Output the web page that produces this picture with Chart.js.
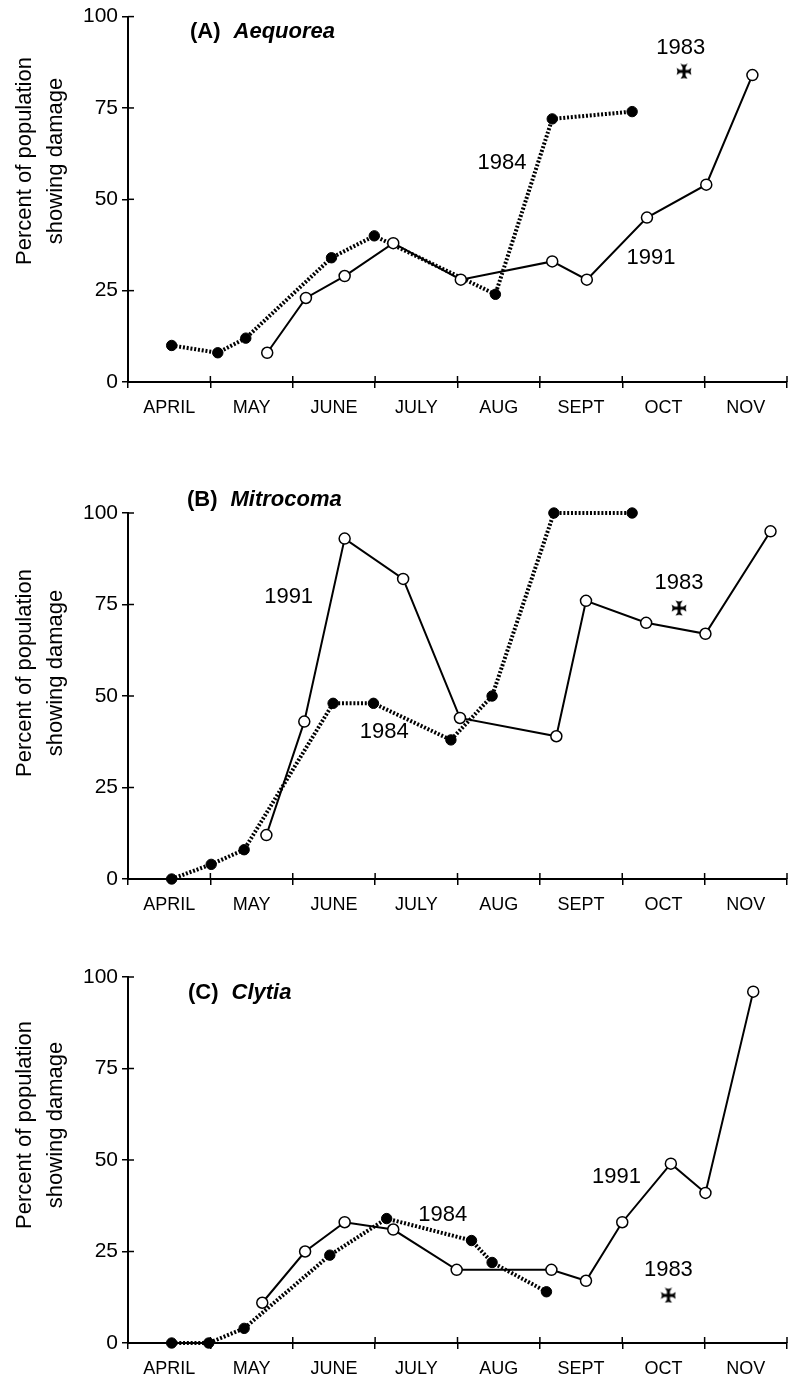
<!DOCTYPE html>
<html><head><meta charset="utf-8">
<script src="https://cdn.jsdelivr.net/npm/chart.js@4/dist/chart.umd.min.js"></script>
<style>
html,body{margin:0;padding:0;background:#fff;width:796px;height:1383px;overflow:hidden;position:relative}
canvas{position:absolute;left:0}
</style></head><body>
<canvas id="cA" width="796" height="470" style="top:0px"></canvas>
<canvas id="cB" width="796" height="460" style="top:470px"></canvas>
<canvas id="cC" width="796" height="453" style="top:930px"></canvas>
<script>
// ---------- data ----------
const months = ['APRIL','MAY','JUNE','JULY','AUG','SEPT','OCT','NOV'];
const yTickValues = [0, 25, 50, 75, 100];
const xTickValues = [0,0.5,1,1.5,2,2.5,3,3.5,4,4.5,5,5.5,6,6.5,7,7.5,8];
const yAxisTitle = ['Percent of population', 'showing damage'];

// (A) Aequorea
const aeq1984X = [0.53, 1.09, 1.43, 2.47, 2.99, 4.46, 5.15, 6.12];
const aeq1984Y = [10, 8, 12, 34, 40, 24, 72, 74];
const aeq1991X = [1.69, 2.16, 2.63, 3.22, 4.04, 5.15, 5.57, 6.30, 7.02, 7.58];
const aeq1991Y = [8, 23, 29, 38, 28, 33, 28, 45, 54, 84];
const aeq1983X = [6.75];
const aeq1983Y = [85];

// (B) Mitrocoma
const mit1984X = [0.53, 1.01, 1.41, 2.49, 2.98, 3.92, 4.42, 5.17, 6.12];
const mit1984Y = [0, 4, 8, 48, 48, 38, 50, 100, 100];
const mit1991X = [1.68, 2.14, 2.63, 3.34, 4.03, 5.20, 5.56, 6.29, 7.01, 7.80];
const mit1991Y = [12, 43, 93, 82, 44, 39, 76, 70, 67, 95];
const mit1983X = [6.69];
const mit1983Y = [74];

// (C) Clytia
const cly1984X = [0.53, 0.98, 1.41, 2.45, 3.14, 4.17, 4.42, 5.08];
const cly1984Y = [0, 0, 4, 24, 34, 28, 22, 14];
const cly1991X = [1.63, 2.15, 2.63, 3.22, 3.99, 5.14, 5.56, 6.00, 6.59, 7.01, 7.59];
const cly1991Y = [11, 25, 33, 31, 20, 20, 17, 33, 49, 41, 96];
const cly1983X = [6.56];
const cly1983Y = [13];

// ---------- helpers ----------
const FONT = '"Liberation Sans", Arial, Helvetica, sans-serif';
Chart.defaults.font.family = FONT;
Chart.defaults.color = '#000';

function zip(xs, ys) { return xs.map((x, i) => ({x: x, y: ys[i]})); }

function makeMaltese() {
  const c = document.createElement('canvas');
  c.width = 16; c.height = 16;
  const g = c.getContext('2d');
  g.translate(8, 8);
  g.fillStyle = '#000';
  for (let k = 0; k < 4; k++) {
    g.beginPath();
    g.moveTo(-1.5, 0);
    g.lineTo(-1.5, -4.2);
    g.lineTo(-3.6, -7.4);
    g.lineTo(0, -6.5);
    g.lineTo(3.6, -7.4);
    g.lineTo(1.5, -4.2);
    g.lineTo(1.5, 0);
    g.closePath();
    g.fill();
    g.rotate(Math.PI / 2);
  }
  return c;
}
const maltese = makeMaltese();

function makeChart(id, p) {
  const decor = {
    id: 'decor',
    afterDraw(chart) {
      const ctx = chart.ctx, xs = chart.scales.x, ys = chart.scales.y, a = chart.chartArea;
      ctx.save();
      // inner tick marks
      ctx.strokeStyle = '#000'; ctx.lineWidth = 1.5;
      for (let i = 0; i <= 8; i++) {
        const px = xs.getPixelForValue(i);
        ctx.beginPath(); ctx.moveTo(px, a.bottom); ctx.lineTo(px, a.bottom - 6); ctx.stroke();
      }
      for (const v of yTickValues) {
        const py = ys.getPixelForValue(v);
        ctx.beginPath(); ctx.moveTo(a.left, py); ctx.lineTo(a.left + 6, py); ctx.stroke();
      }
      // y-axis title
      ctx.fillStyle = '#000';
      ctx.font = '22px ' + FONT;
      ctx.textAlign = 'center';
      ctx.textBaseline = 'alphabetic';
      yAxisTitle.forEach((t, i) => {
        ctx.save();
        ctx.translate(31 + i * 31, p.yTitleY);
        ctx.rotate(-Math.PI / 2);
        ctx.fillText(t, 0, 0);
        ctx.restore();
      });
      // panel title
      ctx.textAlign = 'left';
      ctx.textBaseline = 'middle';
      ctx.font = 'bold 22px ' + FONT;
      ctx.fillText(p.tag, p.titleX, p.titleY);
      const w = ctx.measureText(p.tag).width;
      ctx.font = 'italic bold 22px ' + FONT;
      ctx.fillText(p.name, p.titleX + w + 13, p.titleY);
      // year labels
      ctx.font = '22px ' + FONT;
      ctx.textAlign = 'center';
      for (const lb of p.labels) {
        ctx.fillText(lb.text, xs.getPixelForValue(lb.x), ys.getPixelForValue(lb.y));
      }
      ctx.restore();
    }
  };

  return new Chart(document.getElementById(id), {
    type: 'line',
    data: {
      datasets: [
        {
          label: '1991', data: zip(p.x91, p.y91),
          borderColor: '#000', borderWidth: 2, tension: 0,
          pointRadius: 5.5, pointBackgroundColor: '#fff', pointBorderColor: '#000', pointBorderWidth: 1.5,
          clip: false
        },
        {
          label: '1984', data: zip(p.x84, p.y84),
          borderColor: '#000', borderWidth: 4, borderDash: [2, 1.8], borderCapStyle: 'butt', tension: 0,
          pointRadius: 5.2, pointBackgroundColor: '#000', pointBorderColor: '#000', pointBorderWidth: 1,
          clip: false
        },
        {
          label: '1983', data: zip(p.x83, p.y83), showLine: false,
          pointStyle: maltese, pointRadius: 8, clip: false
        }
      ]
    },
    options: {
      responsive: false, animation: false, events: [],
      layout: { padding: { top: p.padTop, left: 0, right: 0, bottom: 0 } },
      plugins: { legend: { display: false }, tooltip: { enabled: false } },
      scales: {
        x: {
          type: 'linear', min: 0, max: 8,
          afterBuildTicks: s => { s.ticks = xTickValues.map(v => ({ value: v })); },
          afterFit: s => { s.height = p.xAxisH; },
          ticks: {
            autoSkip: false, maxRotation: 0, minRotation: 0, padding: 9, color: '#000',
            font: { size: 18, family: FONT },
            callback: v => Number.isInteger(v) ? '' : months[Math.floor(v)]
          },
          grid: {
            drawOnChartArea: false, drawTicks: true, tickLength: 6, lineWidth: 1.5,
            color: c => (c.tick && Number.isInteger(c.tick.value)) ? '#000' : 'rgba(0,0,0,0)'
          },
          border: { display: true, color: '#000', width: 2 }
        },
        y: {
          type: 'linear', min: 0, max: 100,
          afterBuildTicks: s => { s.ticks = yTickValues.map(v => ({ value: v })); },
          afterFit: s => { s.width = 128; },
          ticks: { padding: 4, color: '#000', font: { size: 21, family: FONT } },
          grid: { drawOnChartArea: false, drawTicks: true, tickLength: 6, lineWidth: 1.5, color: '#000' },
          border: { display: true, color: '#000', width: 2 }
        }
      }
    },
    plugins: [decor]
  });
}

makeChart('cA', {
  x84: aeq1984X, y84: aeq1984Y, x91: aeq1991X, y91: aeq1991Y, x83: aeq1983X, y83: aeq1983Y,
  padTop: 16, xAxisH: 88, yTitleY: 161, tag: '(A)', name: 'Aequorea', titleX: 190, titleY: 32,
  labels: [ {text: '1983', x: 6.71, y: 91.5}, {text: '1984', x: 4.54, y: 60}, {text: '1991', x: 6.35, y: 34} ]
});
makeChart('cB', {
  x84: mit1984X, y84: mit1984Y, x91: mit1991X, y91: mit1991Y, x83: mit1983X, y83: mit1983Y,
  padTop: 43, xAxisH: 51, yTitleY: 203, tag: '(B)', name: 'Mitrocoma', titleX: 187, titleY: 30,
  labels: [ {text: '1983', x: 6.69, y: 81}, {text: '1984', x: 3.11, y: 40.3}, {text: '1991', x: 1.95, y: 77} ]
});
makeChart('cC', {
  x84: cly1984X, y84: cly1984Y, x91: cly1991X, y91: cly1991Y, x83: cly1983X, y83: cly1983Y,
  padTop: 47, xAxisH: 40, yTitleY: 195, tag: '(C)', name: 'Clytia', titleX: 188, titleY: 63,
  labels: [ {text: '1983', x: 6.56, y: 20}, {text: '1984', x: 3.82, y: 35}, {text: '1991', x: 5.93, y: 45.4} ]
});
</script>
</body></html>
